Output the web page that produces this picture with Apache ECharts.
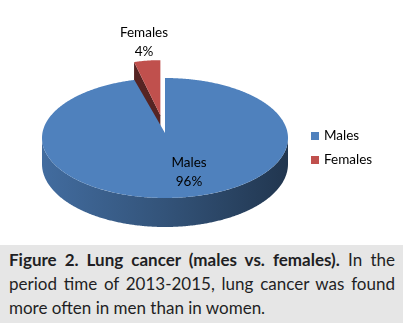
<!DOCTYPE html>
<html>
<head>
<meta charset="utf-8">
<script src="https://cdn.jsdelivr.net/npm/echarts@6/dist/echarts.min.js"></script>
<style>
  html, body { margin: 0; padding: 0; background: #fff; }
  #wrap { position: relative; width: 405px; height: 323px; overflow: hidden; }
  #chart { position: absolute; left: 0; top: 0; width: 405px; height: 245px; }
  #caption {
    position: absolute; left: 0; top: 245px; width: 403px; height: 78px;
    background: #e6e6e6; box-sizing: border-box; padding: 3px 8px 0 9px;
    font-family: Lato, "Open Sans", sans-serif; font-size: 17px; line-height: 24px; color: #1f1f24;
  }
  #caption .row { white-space: nowrap; }
  #caption .just { text-align: justify; text-align-last: justify; }
</style>
</head>
<body>
<div id="wrap">
  <div id="chart"></div>
  <div id="caption">
    <div class="row just"><b>Figure 2. Lung cancer (males vs. females).</b> In the</div>
    <div class="row just">period time of 2013-2015, lung cancer was found</div>
    <div class="row">more often in men than in women.</div>
  </div>
</div>
<script>
// Share of lung cancer cases by sex, 2013-2015 (percent)
const categories = ['Males', 'Females'];
const shares = [96, 4];
const colors = ['#4f81bd', '#c0504d'];

// Geometry of the tilted disc (pixels) and per-slice presentation settings
const G = { cx: 165, cy: 138, rx: 123, ry: 60, apexLift: 5, depth: 26, tilt: 3 };
const explodeBy = { Females: 0.3 };
const farScaleX = { Females: 0.86 };   // pulled-out slice sits farther back, so it reads narrower
const labelOffset = { Males: [24, 34.5], Females: [-21, -96] };
const labelFont = { fontFamily: 'Lato', fontSize: 13.5 };

function shade(hex, f) {
  const n = parseInt(hex.slice(1), 16);
  const r = Math.round(((n >> 16) & 255) * f);
  const g = Math.round(((n >> 8) & 255) * f);
  const b = Math.round((n & 255) * f);
  return 'rgb(' + r + ',' + g + ',' + b + ')';
}

function sliceRenderer(idx) {
  return function (params, api) {
    const total = shares.reduce((a, b) => a + b, 0);
    let before = 0;
    for (let k = 0; k < idx; k++) before += shares[k];
    const v = api.value(0);
    const TAU = Math.PI * 2;
    const a0 = before / total * TAU;
    const a1 = (before + v) / total * TAU;
    const mid = (a0 + a1) / 2;
    const name = categories[idx];
    const e = explodeBy[name] || 0;
    const sx = farScaleX[name] || 1;
    const ox = G.rx * e * Math.sin(mid);
    const oy = -G.ry * e * Math.cos(mid);
    const depthAt = t => G.depth - G.tilt * Math.cos(t);
    const P = (t, low) => [
      G.cx + ox + G.rx * sx * Math.sin(t),
      G.cy + oy - G.ry * Math.cos(t) + (low ? depthAt(t) : 0)
    ];
    const apex = low => [G.cx + ox, G.cy - G.apexLift + oy + (low ? G.depth : 0)];
    const arc = (s, t, low) => {
      const n = Math.max(2, Math.ceil(Math.abs(t - s) / (Math.PI / 360)));
      const pts = [];
      for (let i = 0; i <= n; i++) pts.push(P(s + (t - s) * i / n, low));
      return pts;
    };

    const base = colors[idx];
    const children = [];

    // radial cut faces that turn toward the viewer
    [[a0, a0 - Math.PI / 2], [a1, a1 + Math.PI / 2]].forEach(([t, nrm]) => {
      if (Math.cos(nrm) < -0.01) {
        children.push({
          type: 'polygon',
          shape: { points: [apex(false), P(t, false), P(t, true), apex(true)] },
          style: { fill: shade(base, 0.45) }
        });
      }
    });

    // outer rim on the front half of the disc
    const lo = Math.max(a0, Math.PI / 2), hi = Math.min(a1, Math.PI * 1.5);
    if (hi > lo) {
      const pts = arc(lo, hi, false).concat(arc(hi, lo, true));
      children.push({
        type: 'polygon',
        shape: { points: pts },
        style: {
          fill: new echarts.graphic.LinearGradient(G.cx - G.rx, 0, G.cx + G.rx, 0, [
            { offset: 0, color: shade(base, 0.84) },
            { offset: 0.5, color: shade(base, 0.64) },
            { offset: 1, color: shade(base, 0.42) }
          ], true)
        }
      });
    }

    // top face
    children.push({
      type: 'polygon',
      shape: { points: [apex(false)].concat(arc(a0, a1, false)) },
      style: { fill: base }
    });

    // data label
    const off = labelOffset[name];
    children.push({
      type: 'text',
      style: Object.assign({
        text: name + '\n' + v + '%',
        x: G.cx + off[0], y: G.cy + off[1],
        align: 'center', verticalAlign: 'middle',
        lineHeight: 19, fill: '#000'
      }, labelFont)
    });

    return { type: 'group', children };
  };
}

const chart = echarts.init(document.getElementById('chart'), null, { renderer: 'canvas' });
chart.setOption({
  animation: false,
  backgroundColor: '#fff',
  legend: {
    data: categories,
    orient: 'vertical',
    left: 306, top: 124,
    itemWidth: 8, itemHeight: 8, itemGap: 10,
    icon: 'rect',
    textStyle: { fontFamily: 'Lato', fontSize: 13.5, color: '#000' }
  },
  series: categories.map((name, i) => ({
    type: 'custom',
    name,
    coordinateSystem: 'none',
    z: i === 0 ? 3 : 2,
    silent: true,
    itemStyle: { color: colors[i] },
    data: [shares[i]],
    renderItem: sliceRenderer(i)
  }))
});
</script>
</body>
</html>
